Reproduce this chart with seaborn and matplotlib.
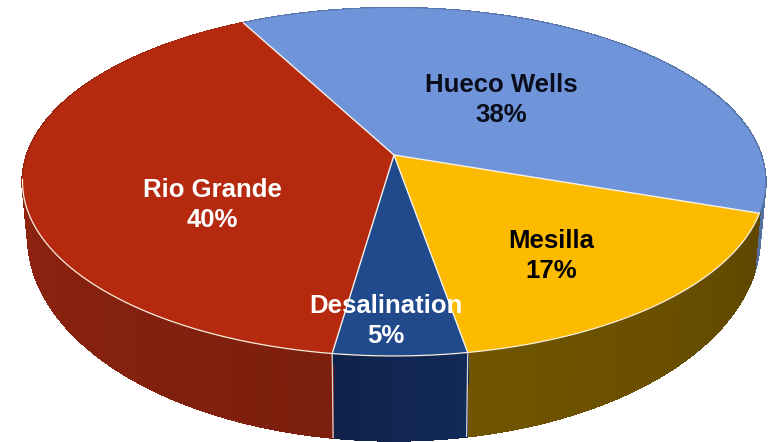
import numpy as np
import matplotlib
matplotlib.use('Agg')
import matplotlib.pyplot as plt
import seaborn as sns

# shares, clockwise from the Rio Grande / Hueco Wells boundary
sources = ['Hueco Wells', 'Mesilla', 'Desalination', 'Rio Grande']
shares = [38, 17, 5, 40]
top_colors = ['#7094da', '#fdbb00', '#214a8c', '#b5290f']
wall_colors = [['#5c79b0', '#54709f'], ['#5e4600', '#6a4f00', '#705400'],
               ['#122a58', '#10224a'], ['#7c1f0e', '#8e2310', '#a62a13']]
text_colors = ['#0a0e1c', 'black', 'white', 'white']

sns.set_theme(style='white')
plt.rcParams['font.family'] = ['Liberation Sans', 'DejaVu Sans']

# disc seen in perspective: centre of the pie sits above the centre of the ellipse
CX, CY = 394, 155
RX, RY = 367, 169.8
K = 0.155
START = 117.8
# lower rim of the wall is a slightly narrower, rounder ellipse
BOTTOM_SHRINK, BOTTOM_STRETCH, BOTTOM_DROP = 0.985, 1.172, 50


def project(theta, shrink=1.0, stretch=1.0, drop=0):
    t = np.radians(theta)
    d = 1 + K * np.sin(t)
    return CX + shrink * RX * np.cos(t) / d, CY + drop - stretch * RY * np.sin(t) / d


def project_bottom(theta):
    return project(theta, BOTTOM_SHRINK, BOTTOM_STRETCH, BOTTOM_DROP)


fig = plt.figure(figsize=(7.75, 4.42), dpi=100)
ax = fig.add_axes([0, 0, 1, 1])
ax.set_xlim(0, 775)
ax.set_ylim(442, 0)
ax.axis('off')

edges = START - np.cumsum([0] + shares) * 3.6

# side wall first, the top covers whatever is behind it
for i in range(len(shares)):
    angles = np.linspace(edges[i], edges[i + 1], 160)
    pal = sns.blend_palette(wall_colors[i], len(angles) - 1)
    for j in range(len(angles) - 1):
        seg = angles[j:j + 2]
        x1, y1 = project(seg)
        x2, y2 = project_bottom(seg[::-1])
        ax.fill(np.r_[x1, x2], np.r_[y1, y2], color=pal[j], lw=1.0,
                antialiased=False, zorder=1)

# top of the pie
for i in range(len(shares)):
    angles = np.linspace(edges[i], edges[i + 1], 200)
    x, y = project(angles)
    ax.fill(np.r_[CX, x], np.r_[CY, y], color=top_colors[i], lw=0, zorder=2)

# white separators
for e in edges[:-1]:
    x, y = project(e)
    ax.plot([CX, x], [CY, y], color='#f4f1ea', lw=1.0, zorder=3)
    if -180 < e < -20:
        xb, yb = project_bottom(e)
        ax.plot([x, xb], [y, yb], color='#d8d8d8', lw=0.9, zorder=3)

rim = np.linspace(-172, -19, 300)
rx, ry = project(rim)
ax.plot(rx, ry, color='#f8efdc', lw=0.9, zorder=3)

label_xy = [(501, 100), (551, 256), (386, 321), (212, 205)]
for name, share, col, (lx, ly) in zip(sources, shares, text_colors, label_xy):
    ax.text(lx, ly, f'{name}\n{share}%', color=col, ha='center', va='center',
            fontsize=18.5, fontweight='bold', linespacing=1.32, zorder=4)

fig.savefig('out.png', dpi=100)
